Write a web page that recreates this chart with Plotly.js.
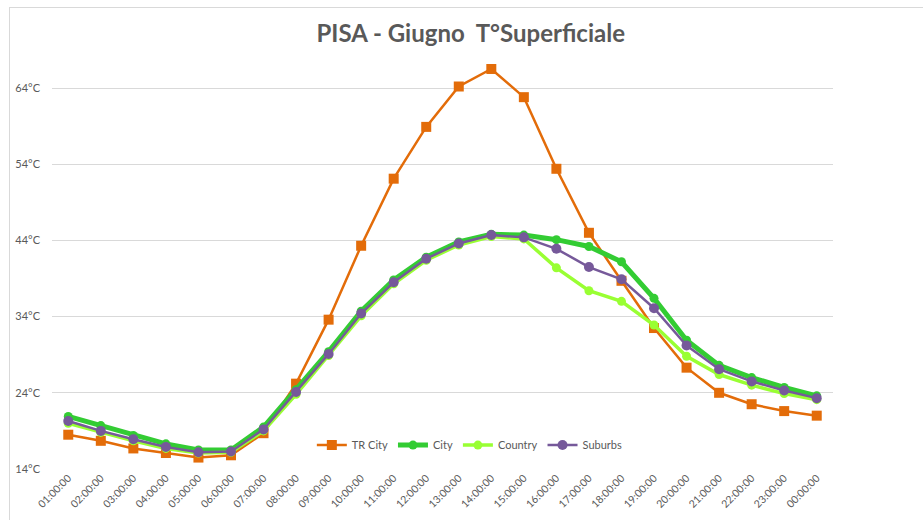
<!DOCTYPE html>
<html>
<head>
<meta charset="utf-8">
<script src="https://cdn.plot.ly/plotly-3.0.1.min.js"></script>
<style>
  html, body { margin: 0; padding: 0; background: #ffffff; }
  #chart { width: 923px; height: 520px; }
  #frame { position: absolute; left: 9px; top: 7px; width: 1000px; height: 600px;
           border-left: 1px solid #d9d9d9; border-top: 1px solid #d9d9d9; pointer-events: none; }
</style>
</head>
<body>
<div id="chart"></div>
<div id="frame"></div>
<script>
const hours = ["01:00:00","02:00:00","03:00:00","04:00:00","05:00:00","06:00:00","07:00:00","08:00:00",
               "09:00:00","10:00:00","11:00:00","12:00:00","13:00:00","14:00:00","15:00:00","16:00:00",
               "17:00:00","18:00:00","19:00:00","20:00:00","21:00:00","22:00:00","23:00:00","00:00:00"];
const trCity  = [18.5, 17.7, 16.7, 16.1, 15.5, 15.8, 18.7, 25.2, 33.6, 43.3, 52.1, 58.9, 64.2, 66.5, 62.8, 53.4, 45.0, 38.7, 32.5, 27.3, 24.0, 22.5, 21.6, 21.0];
const city    = [20.9, 19.7, 18.4, 17.3, 16.5, 16.5, 19.5, 24.4, 29.4, 34.7, 38.8, 41.8, 43.8, 44.8, 44.7, 44.1, 43.2, 41.2, 36.4, 30.9, 27.6, 26.0, 24.7, 23.6];
const country = [20.0, 18.8, 17.7, 16.7, 16.1, 16.2, 19.0, 23.8, 28.9, 34.1, 38.3, 41.4, 43.4, 44.5, 44.2, 40.4, 37.4, 36.0, 32.9, 28.8, 26.4, 25.0, 23.9, 23.1];
const suburbs = [20.3, 19.0, 17.9, 16.9, 16.2, 16.3, 19.2, 24.1, 29.1, 34.4, 38.5, 41.6, 43.6, 44.7, 44.4, 42.9, 40.5, 38.9, 35.1, 30.2, 27.1, 25.5, 24.3, 23.3];
const yTicks = [14, 24, 34, 44, 54, 64];

const traces = [
  { x: hours, y: trCity, name: "TR City", type: "scatter", mode: "lines+markers",
    line: { color: "#E36C09", width: 2.5 }, marker: { symbol: "square", size: 10, color: "#E36C09" } },
  { x: hours, y: city, name: "City", type: "scatter", mode: "lines+markers",
    line: { color: "#33CC33", width: 5 }, marker: { symbol: "circle", size: 9, color: "#33CC33" } },
  { x: hours, y: country, name: "Country", type: "scatter", mode: "lines+markers",
    line: { color: "#99FF33", width: 3.5 }, marker: { symbol: "circle", size: 9, color: "#99FF33" } },
  { x: hours, y: suburbs, name: "Suburbs", type: "scatter", mode: "lines+markers",
    line: { color: "#76599A", width: 2.5 }, marker: { symbol: "circle", size: 10, color: "#76599A" } }
];

const layout = {
  width: 923, height: 520,
  margin: { l: 52, r: 90, t: 42, b: 51 },
  paper_bgcolor: "#ffffff", plot_bgcolor: "#ffffff",
  font: { family: "Lato, 'Open Sans', sans-serif", color: "#595959", size: 11 },
  title: { text: "<b>PISA - Giugno  T°Superficiale</b>", x: 0.51, xanchor: "center", y: 0.935, yanchor: "middle",
           font: { family: "Lato, 'Open Sans', sans-serif", size: 24, color: "#595959" } },
  xaxis: { type: "category", categoryorder: "array", categoryarray: hours, range: [-0.5, 23.5],
           showgrid: false, zeroline: false, showline: false, ticks: "", tickangle: -45,
           tickfont: { size: 10.5, color: "#595959" }, automargin: false },
  yaxis: { range: [14, 70.04], tickvals: yTicks, ticktext: yTicks.map(v => v + "°C"),
           showgrid: true, gridcolor: "#d9d9d9", gridwidth: 1, zeroline: false, showline: false,
           ticks: "", ticklabelstandoff: 11, tickfont: { size: 11, color: "#595959" }, automargin: false },
  legend: { orientation: "h", x: 0.535, xanchor: "center", y: 0.056, yanchor: "middle",
            bgcolor: "rgba(0,0,0,0)", font: { size: 11, color: "#595959" },
            itemwidth: 30, tracegroupgap: 0 },
  showlegend: true
};

Plotly.newPlot("chart", traces, layout, { displayModeBar: false, staticPlot: true });
</script>
</body>
</html>
